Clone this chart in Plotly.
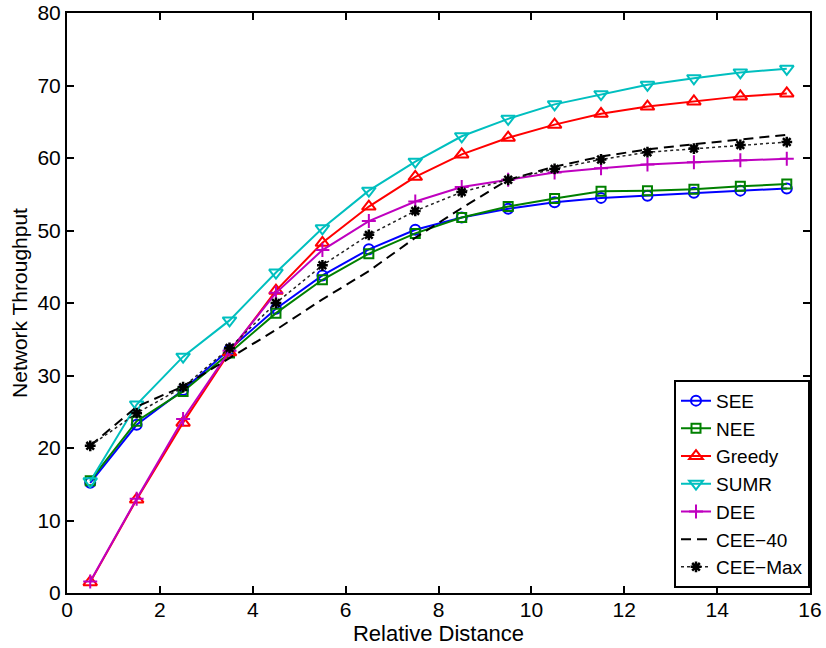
import plotly.graph_objects as go

distance = [0.5, 1.5, 2.5, 3.5, 4.5, 5.5, 6.5, 7.5, 8.5, 9.5, 10.5, 11.5, 12.5, 13.5, 14.5, 15.5]

see = [15.2, 23.2, 28.0, 33.6, 39.2, 43.8, 47.4, 50.1, 51.8, 53.0, 53.9, 54.5, 54.8, 55.2, 55.5, 55.8]
nee = [15.5, 23.7, 27.8, 33.1, 38.6, 43.2, 46.8, 49.6, 51.8, 53.3, 54.4, 55.4, 55.5, 55.7, 56.1, 56.4]
greedy = [1.5, 12.9, 23.5, 33.2, 41.7, 48.3, 53.3, 57.4, 60.5, 62.8, 64.6, 66.1, 67.1, 67.8, 68.5, 68.9]
sumr = [15.4, 26.0, 32.6, 37.6, 44.2, 50.3, 55.5, 59.5, 63.0, 65.4, 67.4, 68.8, 70.1, 71.0, 71.8, 72.3]
dee = [1.6, 13.0, 24.0, 33.4, 41.4, 47.3, 51.3, 54.0, 56.0, 57.0, 58.0, 58.6, 59.1, 59.4, 59.7, 59.9]
cee40 = [20.3, 25.7, 28.5, 32.4, 36.3, 40.5, 44.4, 49.0, 53.1, 57.0, 58.8, 60.2, 61.2, 61.9, 62.6, 63.2]
ceemax = [20.3, 24.8, 28.4, 33.8, 40.0, 45.2, 49.4, 52.7, 55.3, 57.0, 58.5, 59.8, 60.8, 61.3, 61.8, 62.2]

x_ticks = [0, 2, 4, 6, 8, 10, 12, 14, 16]
y_ticks = [0, 10, 20, 30, 40, 50, 60, 70, 80]

FONT = "Liberation Sans, Arial, Helvetica, sans-serif"

fig = go.Figure()

def add(name, y, color, symbol, size, dash="solid", lw=2, mlw=2):
    fig.add_trace(go.Scatter(
        x=distance, y=y, name=name, mode="lines+markers",
        line=dict(color=color, width=lw, dash=dash),
        marker=dict(symbol=symbol, size=size, color=color,
                    line=dict(color=color, width=mlw)),
    ))

add("SEE", see, "#0000ff", "circle-open", 10)
add("NEE", nee, "#008000", "square-open", 9)
add("Greedy", greedy, "#ff0000", "triangle-up-open", 12)
add("SUMR", sumr, "#00bfbf", "triangle-down-open", 12)
add("DEE", dee, "#bf00bf", "cross-thin-open", 10)
fig.add_trace(go.Scatter(
    x=distance, y=cee40, name="CEE\u221240", mode="lines",
    line=dict(color="black", width=2, dash="10px,6px"),
))
fig.add_trace(go.Scatter(
    x=distance, y=ceemax, name="CEE\u2212Max", mode="lines+markers",
    line=dict(color="#222222", width=1.5, dash="dot"),
    marker=dict(symbol="asterisk-open", size=9, color="black",
                line=dict(color="black", width=2.5)),
))

axis_common = dict(
    automargin=False,
    showgrid=False, zeroline=False, showline=True, linecolor="black", linewidth=2,
    mirror="ticks", ticks="inside", ticklen=7, tickwidth=1.5, tickcolor="black",
    ticklabeloverflow="allow",
    tickfont=dict(family=FONT, size=21, color="black"),
)

fig.update_xaxes(range=[0, 16], tickvals=x_ticks, ticktext=[str(v) for v in x_ticks],
                 ticklabelstandoff=-3,
                 title=dict(text="Relative Distance", font=dict(family=FONT, size=22, color="black"),
                            standoff=0),
                 **axis_common)
fig.update_yaxes(range=[0, 80], tickvals=y_ticks, ticktext=[str(v) for v in y_ticks],
                 title=dict(text="Network Throughput", font=dict(family=FONT, size=21, color="black"),
                            standoff=4),
                 **axis_common)

fig.update_layout(
    width=826, height=648,
    margin=dict(l=67, r=16, t=13, b=55),
    paper_bgcolor="white", plot_bgcolor="white",
    font=dict(family=FONT, color="black"),
    legend=dict(
        x=1, xanchor="right", y=0.009, yanchor="bottom",
        bgcolor="white", bordercolor="black", borderwidth=2,
        font=dict(family=FONT, size=19, color="black"),
        itemwidth=30, tracegroupgap=0,
    ),
)

# remove the page's default body margin so the figure fills the window exactly
fig.write_html("out.html", config={"displayModeBar": False},
               post_script="document.body.style.margin='0';")
